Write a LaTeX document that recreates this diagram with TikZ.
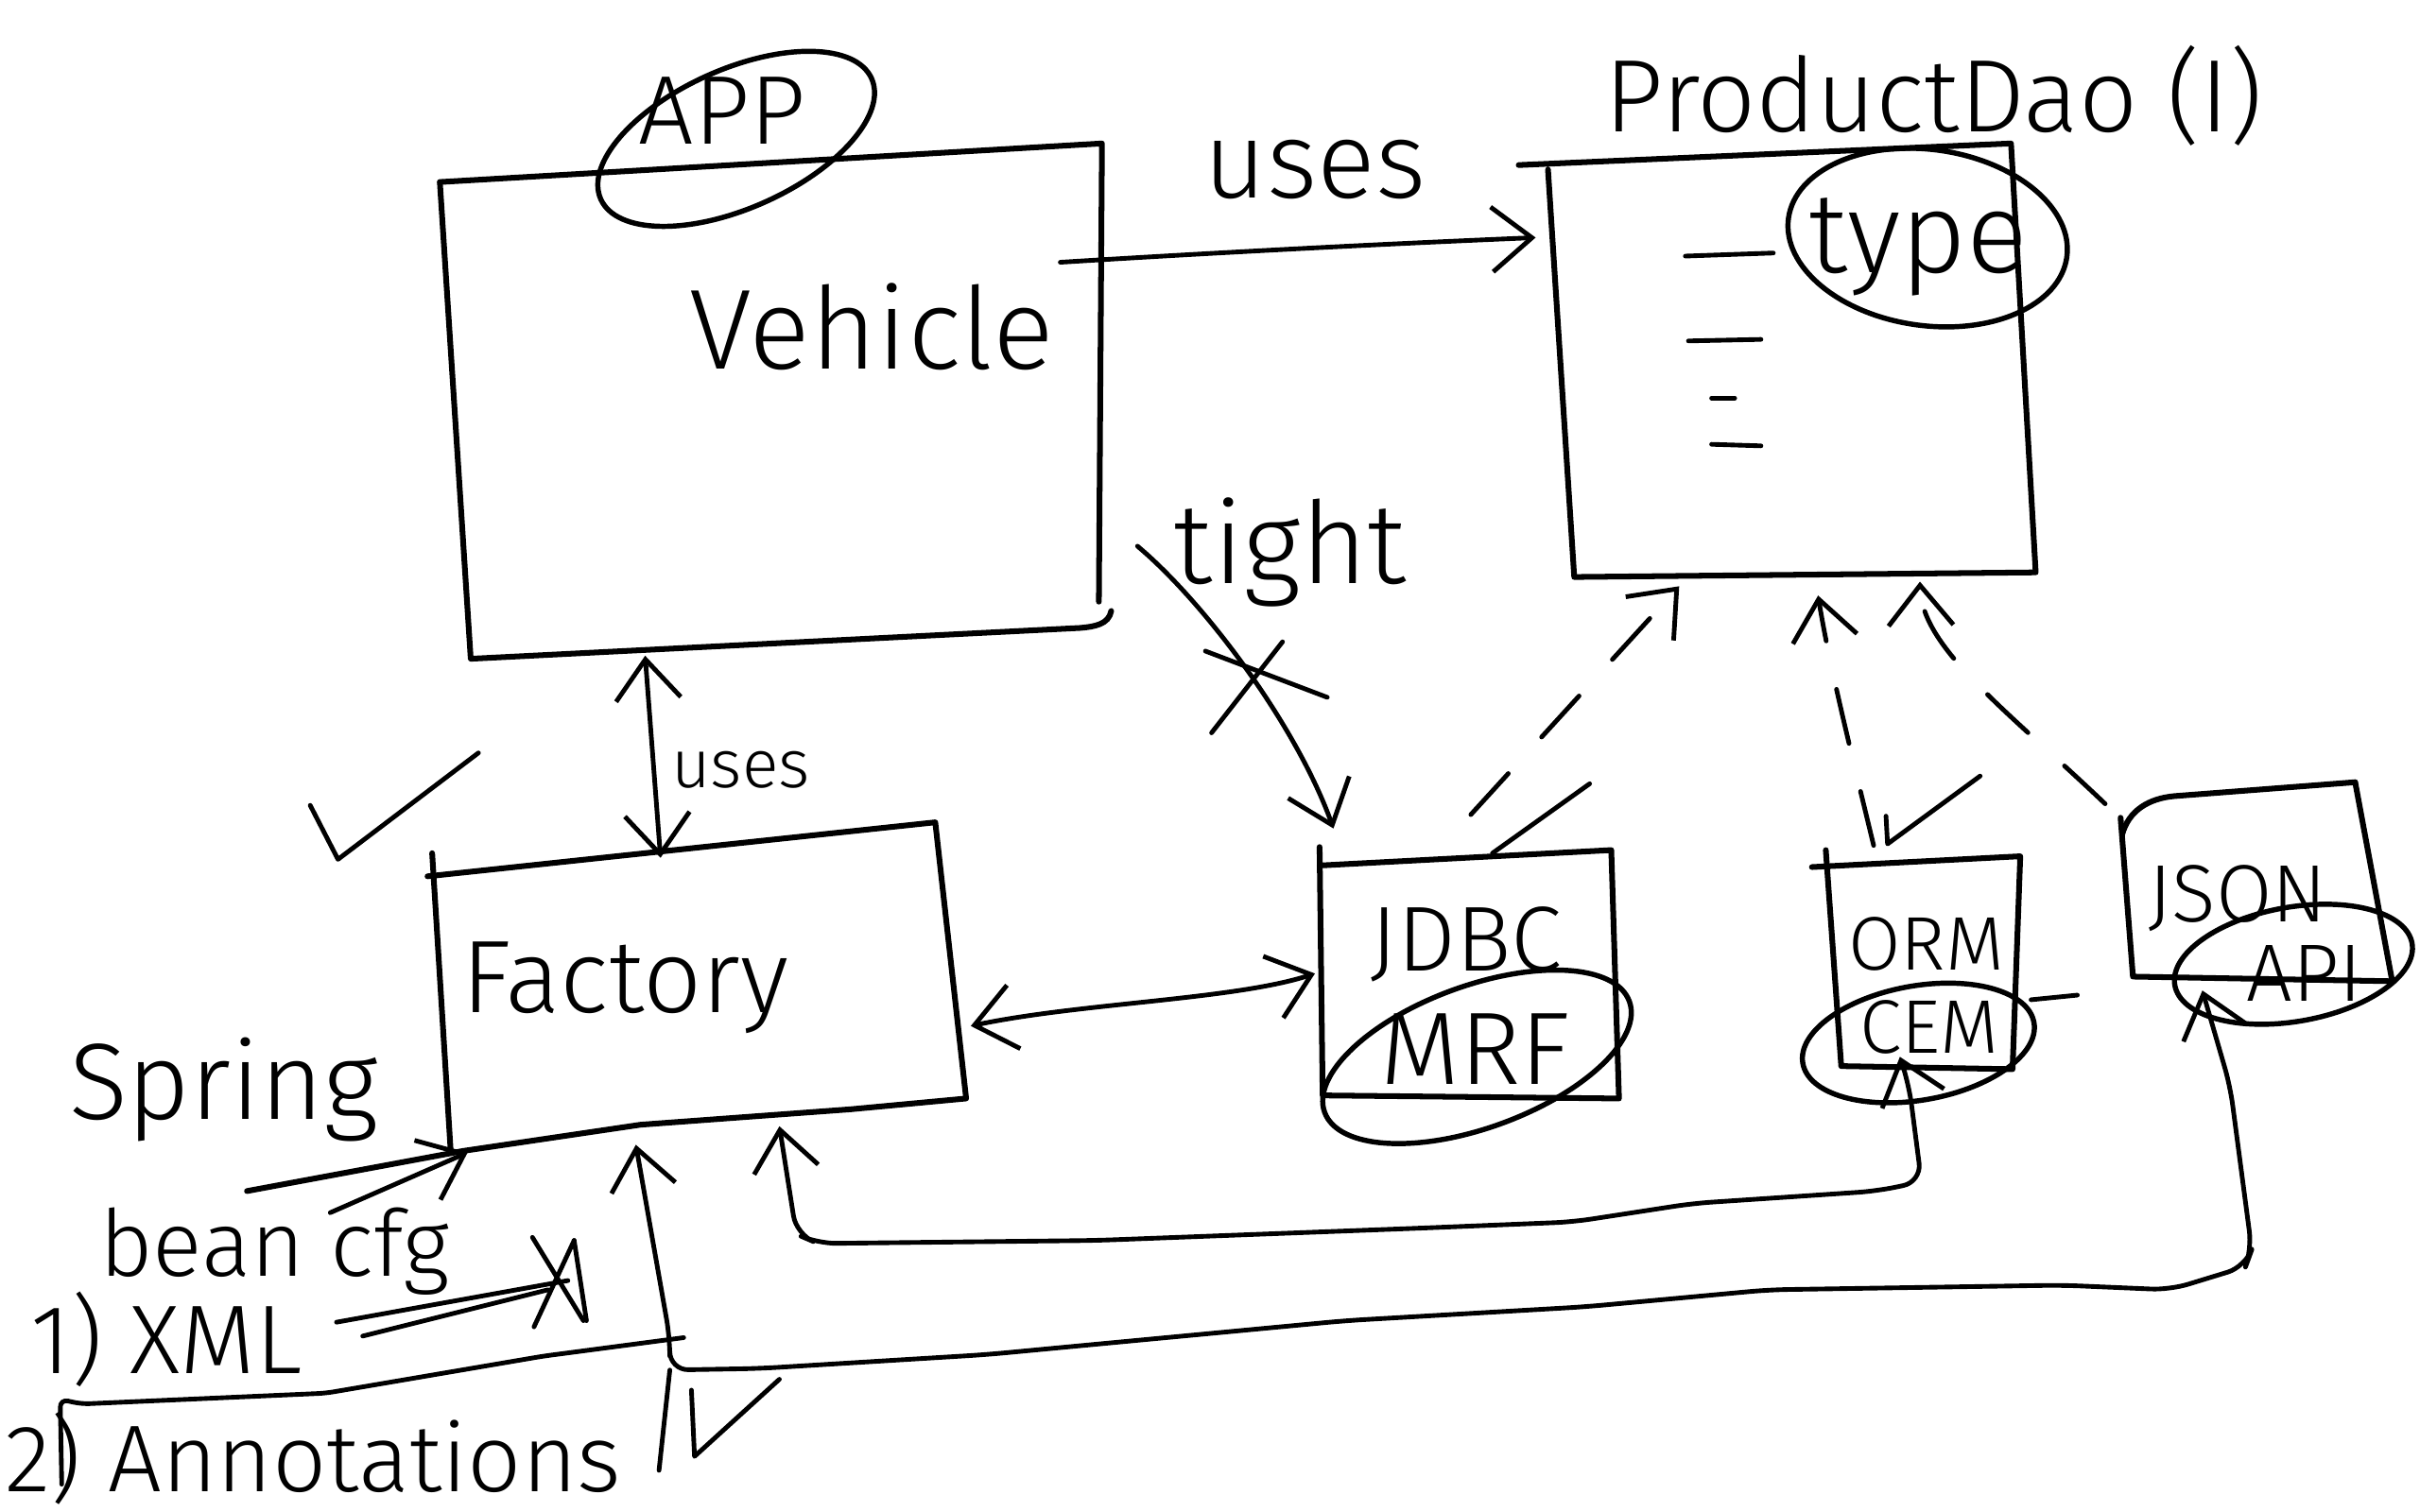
\documentclass[tikz,border=0pt]{standalone}
\usepackage{fontspec}
\setmainfont{Fira Sans}[UprightFont={* Light}]
\usetikzlibrary{arrows.meta,shapes.geometric}
\newcommand\hsz[1]{\fontsize{#1}{#1}\selectfont}
\begin{document}
\begin{tikzpicture}[x=0.01cm,y=-0.01cm,
  >={Straight Barb[length=2.6mm,width=4.2mm]},
  box/.style={line width=1.05pt,line join=round,line cap=round},
  con/.style={line width=0.85pt,line join=round,line cap=round},
  dashcon/.style={con,dash pattern=on 3.6mm off 3.2mm},
  ring/.style={draw,ellipse,line width=0.95pt,inner sep=0pt},
  lbl/.style={inner sep=0pt}]
\useasboundingbox[fill=white] (0,0) rectangle (1568,980);

% ---------- boxes (corner coordinates) ----------
\coordinate (v1) at (285,118); \coordinate (v2) at (714,93);
\coordinate (v3) at (713,400); \coordinate (v4) at (305,427);
\draw[box] (v1) -- (v2) -- (712,390);
\draw[box] (720,396) to[out=-100,in=5] (700,407) -- (v4) -- (v1);

\coordinate (p1) at (984,107); \coordinate (p2) at (1303,93);
\coordinate (p3) at (1319,371); \coordinate (p4) at (1020,374);
\draw[box] (p1) -- (p2) -- (p3) -- (p4) -- (1003,110);

\coordinate (f1) at (277,568); \coordinate (f2) at (606,533);
\coordinate (f3) at (626,712);
\draw[box] (f1) -- (f2) -- (f3) -- (551,719) -- (415,729) -- (300,746) -- (160,772);
\draw[box] (280,553) -- (292,746);

\coordinate (j1) at (855,561); \coordinate (j2) at (1044,551);
\coordinate (j3) at (1049,712); \coordinate (j4) at (857,710);
\draw[box] (855,549) -- (j4) -- (j3) -- (j2) -- (j1);

\coordinate (o1) at (1174,562); \coordinate (o2) at (1309,555);
\coordinate (o3) at (1304,693); \coordinate (o4) at (1193,691);
\draw[box] (1183,551) -- (o4) -- (o3) -- (o2) -- (o1);

\coordinate (s2) at (1526,507); \coordinate (s3) at (1550,636);
\coordinate (s4) at (1382,633);
\draw[box] (s2) -- (1409,516) to[out=185,in=75] (1375,541);
\draw[box] (1374,530) -- (s4) -- (s3) -- (s2);

% dashes inside ProductDao
\draw[con] (1092,166) -- (1149,164);
\draw[con] (1094,221) -- (1141,220);
\draw[con] (1109,258) -- (1124,258);
\draw[con] (1109,288) -- (1141,289);

% ---------- ellipses ----------
\node[ring,minimum width=1.92cm,minimum height=0.9cm,rotate=24] (appring) at (477,90) {};
\node[ring,minimum width=1.82cm,minimum height=1.14cm,rotate=-8] (typering) at (1249,154) {};
\node[ring,minimum width=2.1cm,minimum height=0.92cm,rotate=20] (mrfring) at (957,685) {};
\node[ring,minimum width=1.52cm,minimum height=0.74cm,rotate=10] (cemring) at (1243,676) {};
\node[ring,minimum width=1.56cm,minimum height=0.74cm,rotate=10] (apiring) at (1486,625) {};

% ---------- labels ----------
\node[lbl,font=\hsz{18}] (applbl) at (468,72) {APP};
\node[lbl,font=\hsz{21}] (vehlbl) at (565,212) {Vehicle};
\node[lbl,font=\hsz{20}] (uses1) at (852,110) {uses};
\node[lbl,font=\hsz{19}] (pdlbl) at (1253,62) {ProductDao (I)};
\node[lbl,font=\hsz{21}] (typelbl) at (1243,160) {type};
\node[lbl,font=\hsz{21}] (tightlbl) at (836,358) {tight};
\node[lbl,font=\hsz{12.5}] (uses2) at (480,499) {uses};
\node[lbl,font=\hsz{19}] (factlbl) at (405,640) {Factory};
\node[lbl,font=\hsz{17}] (jdbclbl) at (950,612) {JDBC};
\node[lbl,font=\hsz{19}] (mrflbl) at (956,680) {MRF};
\node[lbl,font=\hsz{14}] (ormlbl) at (1248,612) {ORM};
\node[lbl,font=\hsz{14}] (cemlbl) at (1250,666) {CEM};
\node[lbl,font=\hsz{15}] (jsonlbl) at (1450,582) {JSON};
\node[lbl,font=\hsz{15}] (apilbl) at (1493,631) {API};
\node[lbl,font=\hsz{20}] (springlbl) at (145,706) {Spring};
\node[lbl,font=\hsz{17}] (beanlbl) at (178,811) {bean cfg};
\node[lbl,font=\hsz{18}] (xmllbl) at (108,868) {1) XML};
\node[lbl,font=\hsz{17.5}] (annlbl) at (203,945) {2) Annotations};

% ---------- connector end points ----------
\coordinate (vehout) at (687,170);
\coordinate (pdin) at (995,154);
\coordinate (tightstart) at (737,354);
\coordinate (jdbcin) at (864,537);
\coordinate (vehbot) at (418,425);
\coordinate (facttop) at (428,556);
\coordinate (factright) at (629,665);
\coordinate (jdbcleft) at (852,631);
\coordinate (jdbctop) at (953,528);
\coordinate (pdb1) at (1088,380);
\coordinate (ormtop) at (1214,548);
\coordinate (pdb2) at (1178,386);
\coordinate (jsontop) at (1364,521);
\coordinate (pdb3) at (1244,377);
\coordinate (factb1) at (505,730);
\coordinate (ormbot) at (1231,685);
\coordinate (factb2) at (412,742);
\coordinate (jsonbot) at (1427,642);
\coordinate (junc) at (434,888);
\coordinate (beanend) at (214,786);
\coordinate (factcorner) at (303,747);

% ---------- connectors ----------
\draw[con,->] (vehout) .. controls (800,163) and (900,158) .. (pdin);
\draw[con,->] (tightstart) .. controls (780,390) and (840,470) .. (jdbcin);
\draw[con] (781,422) -- (860,452);
\draw[con] (831,416) -- (785,475);
\draw[con,<->] (vehbot) -- (facttop);
\draw[con,<->] (factright) .. controls (700,650) and (800,648) .. (jdbcleft);

\draw[dashcon,->] (jdbctop) -- (pdb1);
\draw[dashcon,->] (ormtop) .. controls (1200,490) and (1185,430) .. (pdb2);
\draw[dashcon,->] (jsontop) .. controls (1300,460) and (1245,420) .. (pdb3);
\draw[con] (1030,508) -- (967,553);
\draw[con] (1222,529) -- (1223,547) -- (1283,503);

\draw[con,<->,rounded corners=0.12cm] (factb1) -- (516,800) -- (530,806) -- (710,804)
  -- (921,796) -- (1019,792) -- (1097,780) -- (1216,772) -- (1245,766) -- (1237,704) -- (ormbot);
\draw[con,<->,rounded corners=0.12cm] (factb2) -- (434,867) -- (junc) -- (492,887) -- (639,878)
  -- (872,856) -- (1027,847) -- (1146,836) -- (1336,833) -- (1406,836) -- (1455,821)
  -- (1459,810) -- (1445,704) -- (jsonbot);
\draw[con] (junc) -- (427,953);

% ---------- left-bottom annotations ----------
\draw[con] (201,522) -- (219,557) -- (310,488);
\draw[con,->] (beanend) -- (factcorner);
\draw[con] (218,857) -- (368,830);
\draw[con] (235,866) -- (355,836);
\draw[con] (345,802) -- (378,856);
\draw[con] (372,804) -- (346,860);
\draw[con] (372,804) -- (380,856);
\draw[con,rounded corners=0.05cm] (40,962) -- (39,907) -- (53,910) -- (211,903) -- (352,879) -- (443,867);
\draw[con] (448,901) -- (450,944) -- (505,894);
\draw[con] (1316,648) -- (1346,645);
\end{tikzpicture}
\end{document}
